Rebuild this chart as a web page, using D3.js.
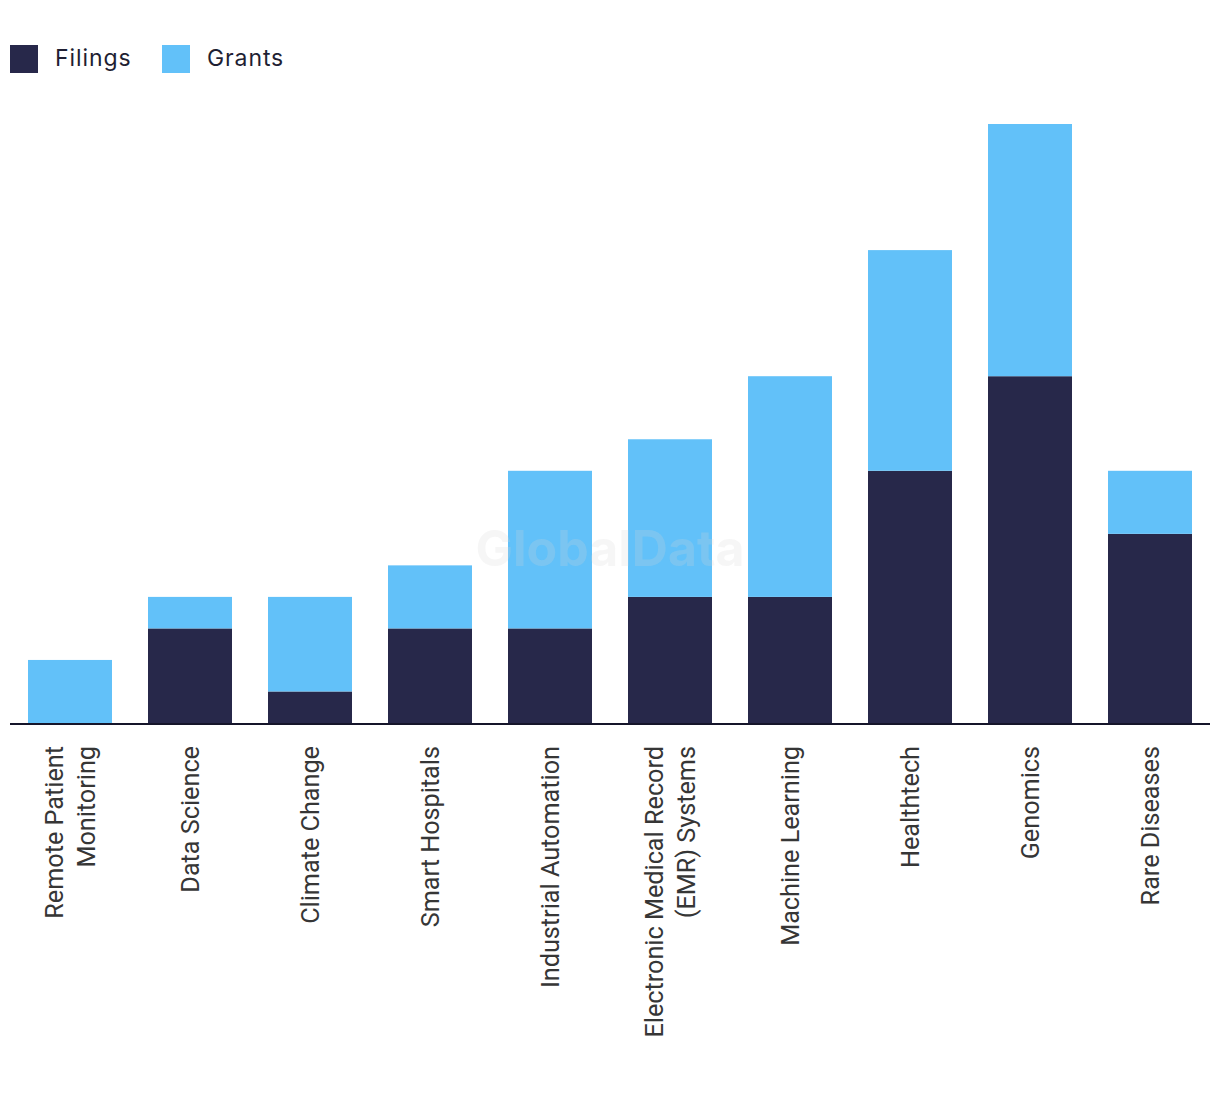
<!DOCTYPE html>
<html>
<head>
<meta charset="utf-8">
<script src="https://cdn.jsdelivr.net/npm/d3@7"></script>
<style>
  html, body { margin: 0; padding: 0; background: #ffffff; }
  svg { display: block; }
</style>
</head>
<body>
<svg id="chart" width="1220" height="1094"></svg>
<script>
const categories = [
  "Remote Patient Monitoring",
  "Data Science",
  "Climate Change",
  "Smart Hospitals",
  "Industrial Automation",
  "Electronic Medical Record (EMR) Systems",
  "Machine Learning",
  "Healthtech",
  "Genomics",
  "Rare Diseases"
];
const labelLines = [
  ["Remote Patient", "Monitoring"],
  ["Data Science"],
  ["Climate Change"],
  ["Smart Hospitals"],
  ["Industrial Automation"],
  ["Electronic Medical Record", "(EMR) Systems"],
  ["Machine Learning"],
  ["Healthtech"],
  ["Genomics"],
  ["Rare Diseases"]
];
const filings = [0, 3, 1, 3, 3, 4, 4, 8, 11, 6];
const grants  = [2, 1, 3, 2, 5, 5, 7, 7, 8, 2];
const seriesNames = ["Filings", "Grants"];
const seriesColors = ["#27284a", "#62c1f9"];

const svg = d3.select("#chart");
const baseY = 723;

const x = d3.scaleBand()
  .domain(categories)
  .range([10, 1210])
  .paddingInner(0.3)
  .paddingOuter(0.15);

const y = d3.scaleLinear()
  .domain([0, 19])
  .range([baseY, 124]);

const table = categories.map((c, i) => ({ cat: c, Filings: filings[i], Grants: grants[i] }));
const stacked = d3.stack().keys(seriesNames)(table);

const color = d3.scaleOrdinal().domain(seriesNames).range(seriesColors);

svg.append("g").selectAll("g")
  .data(stacked)
  .join("g")
  .attr("fill", d => color(d.key))
  .selectAll("rect")
  .data(d => d)
  .join("rect")
  .attr("x", d => x(d.data.cat))
  .attr("width", x.bandwidth())
  .attr("y", d => y(d[1]))
  .attr("height", d => Math.max(0, y(d[0]) - y(d[1])));

// watermark
svg.append("text")
  .attr("x", 610)
  .attr("y", 566)
  .attr("text-anchor", "middle")
  .attr("font-family", "Inter, 'Liberation Sans', sans-serif")
  .attr("font-weight", 700)
  .attr("font-size", 50)
  .attr("fill", "#d8d8d8")
  .attr("fill-opacity", 0.22)
  .text("GlobalData");

// axis baseline
svg.append("line")
  .attr("x1", 10).attr("x2", 1210)
  .attr("y1", baseY + 1).attr("y2", baseY + 1)
  .attr("stroke", "#15152a")
  .attr("stroke-width", 2);

// category labels
const fs = 26.5;
const lineH = 32;
const labels = svg.append("g")
  .attr("font-family", "Roboto, 'Liberation Sans', sans-serif")
  .attr("font-size", fs)
  .attr("fill", "#363636");

categories.forEach((c, i) => {
  const cx = x(c) + x.bandwidth() / 2;
  const lines = labelLines[i];
  const t = labels.append("text")
    .attr("text-anchor", "end")
    .attr("transform", `translate(${cx},746) rotate(-90) scale(0.952,1)`);
  const offset = -(lines.length - 1) * lineH / 2;
  lines.forEach((ln, j) => {
    t.append("tspan")
      .attr("x", 0)
      .attr("y", offset + j * lineH)
      .attr("dy", "0.35em")
      .text(ln);
  });
});

// legend
const legend = svg.append("g")
  .attr("font-family", "Inter, 'Open Sans', sans-serif")
  .attr("font-size", 23)
  .attr("fill", "#1f1f33");
const legX = [10, 162];
seriesNames.forEach((s, i) => {
  legend.append("rect")
    .attr("x", legX[i]).attr("y", 45)
    .attr("width", 28).attr("height", 28)
    .attr("fill", color(s));
  legend.append("text")
    .attr("x", legX[i] + 45)
    .attr("y", 58)
    .attr("dy", "0.35em")
    .attr("letter-spacing", 0.9)
    .text(s);
});
</script>
</body>
</html>
